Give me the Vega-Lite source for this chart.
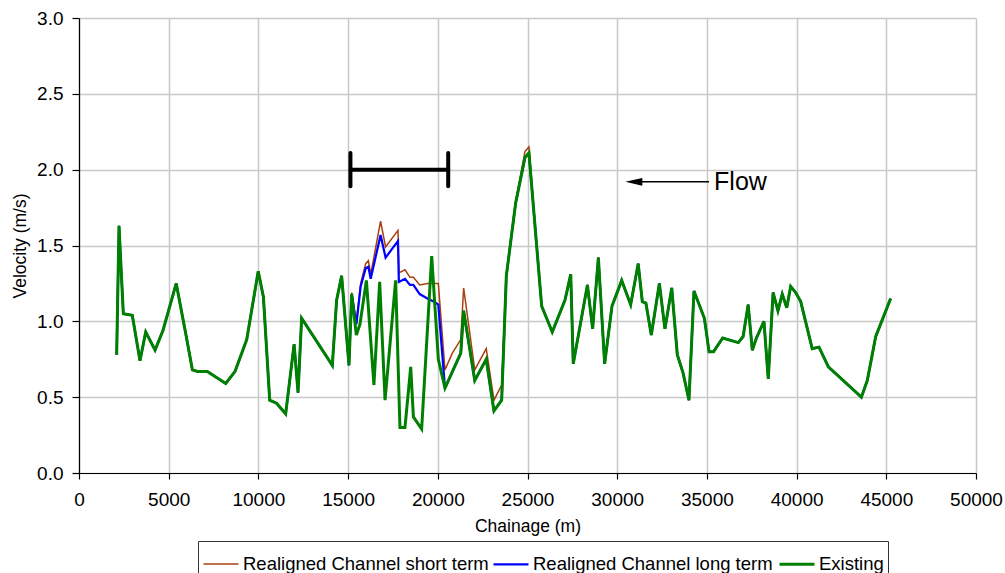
{
  "$schema": "https://vega.github.io/schema/vega-lite/v6.json",
  "width": 897,
  "height": 455,
  "autosize": {"type": "none"},
  "padding": {"left": 79, "top": 18, "right": 29, "bottom": 100},
  "background": "white",
  "config": {
    "font": "Liberation Sans",
    "view": {"stroke": null},
    "axis": {
      "labelFontSize": 19,
      "titleFontSize": 17.5,
      "titleFontWeight": "normal",
      "labelColor": "black",
      "titleColor": "black",
      "domainColor": "black",
      "domainWidth": 1.2,
      "tickColor": "black",
      "tickWidth": 1.2,
      "tickSize": 6,
      "gridColor": "#c8c8c8",
      "gridWidth": 1.5
    }
  },
  "layer": [
    {
      "data": {
        "values": [
          {"x": 2100, "short": 0.78, "long": 0.78, "existing": 0.78},
          {"x": 2230, "short": 1.63, "long": 1.63, "existing": 1.63},
          {"x": 2470, "short": 1.05, "long": 1.05, "existing": 1.05},
          {"x": 2970, "short": 1.04, "long": 1.04, "existing": 1.04},
          {"x": 3400, "short": 0.74, "long": 0.74, "existing": 0.74},
          {"x": 3720, "short": 0.93, "long": 0.93, "existing": 0.93},
          {"x": 4240, "short": 0.81, "long": 0.81, "existing": 0.81},
          {"x": 4680, "short": 0.94, "long": 0.94, "existing": 0.94},
          {"x": 5420, "short": 1.25, "long": 1.25, "existing": 1.25},
          {"x": 5980, "short": 0.9, "long": 0.9, "existing": 0.9},
          {"x": 6320, "short": 0.68, "long": 0.68, "existing": 0.68},
          {"x": 6600, "short": 0.67, "long": 0.67, "existing": 0.67},
          {"x": 7150, "short": 0.67, "long": 0.67, "existing": 0.67},
          {"x": 8180, "short": 0.59, "long": 0.59, "existing": 0.59},
          {"x": 8700, "short": 0.67, "long": 0.67, "existing": 0.67},
          {"x": 9350, "short": 0.88, "long": 0.88, "existing": 0.88},
          {"x": 9990, "short": 1.33, "long": 1.33, "existing": 1.33},
          {"x": 10280, "short": 1.16, "long": 1.16, "existing": 1.16},
          {"x": 10630, "short": 0.48, "long": 0.48, "existing": 0.48},
          {"x": 11010, "short": 0.46, "long": 0.46, "existing": 0.46},
          {"x": 11520, "short": 0.39, "long": 0.39, "existing": 0.39},
          {"x": 11990, "short": 0.85, "long": 0.85, "existing": 0.85},
          {"x": 12210, "short": 0.53, "long": 0.53, "existing": 0.53},
          {"x": 12410, "short": 1.02, "long": 1.02, "existing": 1.02},
          {"x": 14120, "short": 0.71, "long": 0.71, "existing": 0.71},
          {"x": 14360, "short": 1.14, "long": 1.14, "existing": 1.14},
          {"x": 14640, "short": 1.3, "long": 1.3, "existing": 1.3},
          {"x": 15050, "short": 0.71, "long": 0.71, "existing": 0.71},
          {"x": 15200, "short": 1.19, "long": 1.18, "existing": 1.18},
          {"x": 15460, "short": 0.99, "long": 0.98, "existing": 0.91},
          {"x": 15660, "existing": 0.98},
          {"x": 15700, "short": 1.25, "long": 1.23},
          {"x": 15980, "short": 1.38, "long": 1.35},
          {"x": 16020, "existing": 1.27},
          {"x": 16130, "short": 1.4, "long": 1.36},
          {"x": 16260, "short": 1.31, "long": 1.28},
          {"x": 16440, "existing": 0.58},
          {"x": 16760, "existing": 1.26},
          {"x": 16810, "short": 1.66, "long": 1.57},
          {"x": 17060, "existing": 0.48},
          {"x": 17090, "short": 1.49, "long": 1.42},
          {"x": 17650, "existing": 1.27},
          {"x": 17780, "short": 1.6, "long": 1.53},
          {"x": 17830, "short": 1.32, "long": 1.26},
          {"x": 17890, "existing": 0.3},
          {"x": 18170, "short": 1.34, "long": 1.28, "existing": 0.3},
          {"x": 18450, "short": 1.29, "long": 1.24},
          {"x": 18490, "existing": 0.7},
          {"x": 18640, "short": 1.29, "long": 1.24, "existing": 0.37},
          {"x": 18990, "short": 1.24, "long": 1.18},
          {"x": 19100, "existing": 0.29},
          {"x": 19420, "short": 1.25, "long": 1.15},
          {"x": 19660, "existing": 1.43},
          {"x": 19790, "short": 1.25, "long": 1.13},
          {"x": 20030, "short": 1.25, "long": 1.11, "existing": 0.75},
          {"x": 20400, "short": 0.68, "long": 0.56, "existing": 0.56},
          {"x": 20810, "short": 0.79},
          {"x": 21280, "short": 0.88, "long": 0.79, "existing": 0.79},
          {"x": 21440, "short": 1.22, "long": 1.07, "existing": 1.07},
          {"x": 22060, "short": 0.68, "long": 0.61, "existing": 0.61},
          {"x": 22700, "short": 0.82, "long": 0.75, "existing": 0.75},
          {"x": 23130, "short": 0.48, "long": 0.41, "existing": 0.41},
          {"x": 23560, "short": 0.58, "long": 0.48, "existing": 0.48},
          {"x": 23820, "short": 1.3, "long": 1.3, "existing": 1.3},
          {"x": 24340, "short": 1.79, "long": 1.78, "existing": 1.78},
          {"x": 24860, "short": 2.12, "long": 2.08, "existing": 2.08},
          {"x": 25080, "short": 2.15, "long": 2.11, "existing": 2.11},
          {"x": 25790, "short": 1.1, "long": 1.1, "existing": 1.1},
          {"x": 26380, "short": 0.93, "long": 0.93, "existing": 0.93},
          {"x": 27090, "short": 1.14, "long": 1.14, "existing": 1.14},
          {"x": 27410, "short": 1.31, "long": 1.31, "existing": 1.31},
          {"x": 27550, "short": 0.72, "long": 0.72, "existing": 0.72},
          {"x": 28340, "short": 1.24, "long": 1.24, "existing": 1.24},
          {"x": 28630, "short": 0.95, "long": 0.95, "existing": 0.95},
          {"x": 28950, "short": 1.42, "long": 1.42, "existing": 1.42},
          {"x": 29300, "short": 0.72, "long": 0.72, "existing": 0.72},
          {"x": 29710, "short": 1.1, "long": 1.1, "existing": 1.1},
          {"x": 30250, "short": 1.27, "long": 1.27, "existing": 1.27},
          {"x": 30750, "short": 1.11, "long": 1.11, "existing": 1.11},
          {"x": 31170, "short": 1.38, "long": 1.38, "existing": 1.38},
          {"x": 31400, "short": 1.13, "long": 1.13, "existing": 1.13},
          {"x": 31600, "short": 1.12, "long": 1.12, "existing": 1.12},
          {"x": 31900, "short": 0.91, "long": 0.91, "existing": 0.91},
          {"x": 32350, "short": 1.25, "long": 1.25, "existing": 1.25},
          {"x": 32660, "short": 0.95, "long": 0.95, "existing": 0.95},
          {"x": 33040, "short": 1.22, "long": 1.22, "existing": 1.22},
          {"x": 33350, "short": 0.78, "long": 0.78, "existing": 0.78},
          {"x": 33670, "short": 0.66, "long": 0.66, "existing": 0.66},
          {"x": 34000, "short": 0.48, "long": 0.48, "existing": 0.48},
          {"x": 34280, "short": 1.2, "long": 1.2, "existing": 1.2},
          {"x": 34860, "short": 1.02, "long": 1.02, "existing": 1.02},
          {"x": 35120, "short": 0.8, "long": 0.8, "existing": 0.8},
          {"x": 35370, "short": 0.8, "long": 0.8, "existing": 0.8},
          {"x": 35880, "short": 0.89, "long": 0.89, "existing": 0.89},
          {"x": 36750, "short": 0.86, "long": 0.86, "existing": 0.86},
          {"x": 37020, "short": 0.9, "long": 0.9, "existing": 0.9},
          {"x": 37300, "short": 1.11, "long": 1.11, "existing": 1.11},
          {"x": 37530, "short": 0.81, "long": 0.81, "existing": 0.81},
          {"x": 37760, "short": 0.89, "long": 0.89, "existing": 0.89},
          {"x": 38180, "short": 1.0, "long": 1.0, "existing": 1.0},
          {"x": 38420, "short": 0.62, "long": 0.62, "existing": 0.62},
          {"x": 38690, "short": 1.19, "long": 1.19, "existing": 1.19},
          {"x": 38960, "short": 1.07, "long": 1.07, "existing": 1.07},
          {"x": 39200, "short": 1.18, "long": 1.18, "existing": 1.18},
          {"x": 39450, "short": 1.09, "long": 1.09, "existing": 1.09},
          {"x": 39670, "short": 1.23, "long": 1.23, "existing": 1.23},
          {"x": 39950, "short": 1.19, "long": 1.19, "existing": 1.19},
          {"x": 40230, "short": 1.13, "long": 1.13, "existing": 1.13},
          {"x": 40870, "short": 0.82, "long": 0.82, "existing": 0.82},
          {"x": 41250, "short": 0.83, "long": 0.83, "existing": 0.83},
          {"x": 41770, "short": 0.7, "long": 0.7, "existing": 0.7},
          {"x": 43610, "short": 0.5, "long": 0.5, "existing": 0.5},
          {"x": 43940, "short": 0.61, "long": 0.61, "existing": 0.61},
          {"x": 44410, "short": 0.9, "long": 0.9, "existing": 0.9},
          {"x": 45240, "short": 1.15, "long": 1.15, "existing": 1.15}
        ]
      },
      "transform": [
        {"fold": ["short", "long", "existing"], "as": ["series", "v"]},
        {"filter": "isValid(datum.v)"}
      ],
      "mark": {"type": "line", "strokeJoin": "miter", "clip": true},
      "encoding": {
        "x": {
          "field": "x",
          "type": "quantitative",
          "scale": {"domain": [0, 50000], "nice": false},
          "axis": {
            "values": [0, 5000, 10000, 15000, 20000, 25000, 30000, 35000, 40000, 45000, 50000],
            "format": "d",
            "title": "Chainage (m)",
            "labelPadding": 11,
            "labelFlush": false,
            "titleY": 53,
            "titleBaseline": "middle"
          }
        },
        "y": {
          "field": "v",
          "type": "quantitative",
          "scale": {"domain": [0, 3], "nice": false},
          "axis": {
            "values": [0, 0.5, 1, 1.5, 2, 2.5, 3],
            "format": ".1f",
            "title": "Velocity (m/s)",
            "labelPadding": 9,
            "tickSize": 7,
            "titleX": -59,
            "titleBaseline": "middle"
          }
        },
        "color": {
          "field": "series",
          "type": "nominal",
          "scale": {"domain": ["short", "long", "existing"], "range": ["#A8400F", "#0000FF", "#008000"]},
          "legend": {
            "orient": "none",
            "legendX": 119,
            "legendY": 523,
            "direction": "horizontal",
            "columns": 3,
            "title": null,
            "symbolType": "stroke",
            "symbolSize": 1225,
            "strokeColor": "#333333",
            "padding": 4,
            "labelFontSize": 18.5,
            "labelLimit": 400,
            "labelColor": "black",
            "labelOffset": 3,
            "columnPadding": 0,
            "labelExpr": "datum.label == 'short' ? 'Realigned Channel short term' : datum.label == 'long' ? 'Realigned Channel long term' : 'Existing'"
          }
        },
        "strokeWidth": {
          "field": "series",
          "type": "nominal",
          "scale": {"domain": ["short", "long", "existing"], "range": [1.5, 3, 3.5]},
          "legend": {
            "orient": "none",
            "legendX": 119,
            "legendY": 523,
            "direction": "horizontal",
            "columns": 3,
            "title": null,
            "symbolType": "stroke",
            "symbolSize": 1225,
            "strokeColor": "#333333",
            "padding": 4,
            "labelFontSize": 18.5,
            "labelLimit": 400,
            "labelColor": "black",
            "labelOffset": 3,
            "columnPadding": 0,
            "labelExpr": "datum.label == 'short' ? 'Realigned Channel short term' : datum.label == 'long' ? 'Realigned Channel long term' : 'Existing'"
          }
        }
      }
    },
    {
      "data": {"values": [
        {"x": 15130, "x2": 20580, "y": 2.0, "y2": 2.0},
        {"x": 15130, "x2": 15130, "y": 1.89, "y2": 2.11},
        {"x": 20580, "x2": 20580, "y": 1.89, "y2": 2.11}
      ]},
      "mark": {"type": "rule", "color": "black", "strokeWidth": 4, "strokeCap": "round"},
      "encoding": {
        "x": {"field": "x", "type": "quantitative"},
        "x2": {"field": "x2"},
        "y": {"field": "y", "type": "quantitative"},
        "y2": {"field": "y2"}
      }
    },
    {
      "data": {"values": [{"x": 30900, "x2": 35120, "y": 1.92}]},
      "mark": {"type": "rule", "color": "black", "strokeWidth": 1.5},
      "encoding": {
        "x": {"field": "x", "type": "quantitative"},
        "x2": {"field": "x2"},
        "y": {"field": "y", "type": "quantitative"}
      }
    },
    {
      "data": {"values": [{"x": 30925, "y": 1.92}]},
      "mark": {"type": "point", "shape": "M -1 0 L 1 -0.45 L 1 0.45 Z", "size": 289, "filled": true, "color": "black", "opacity": 1, "strokeWidth": 0},
      "encoding": {
        "x": {"field": "x", "type": "quantitative"},
        "y": {"field": "y", "type": "quantitative"}
      }
    },
    {
      "data": {"values": [{"x": 35400, "y": 1.92, "label": "Flow"}]},
      "mark": {"type": "text", "align": "left", "baseline": "middle", "fontSize": 25, "color": "black"},
      "encoding": {
        "x": {"field": "x", "type": "quantitative"},
        "y": {"field": "y", "type": "quantitative"},
        "text": {"field": "label"}
      }
    }
  ]
}
